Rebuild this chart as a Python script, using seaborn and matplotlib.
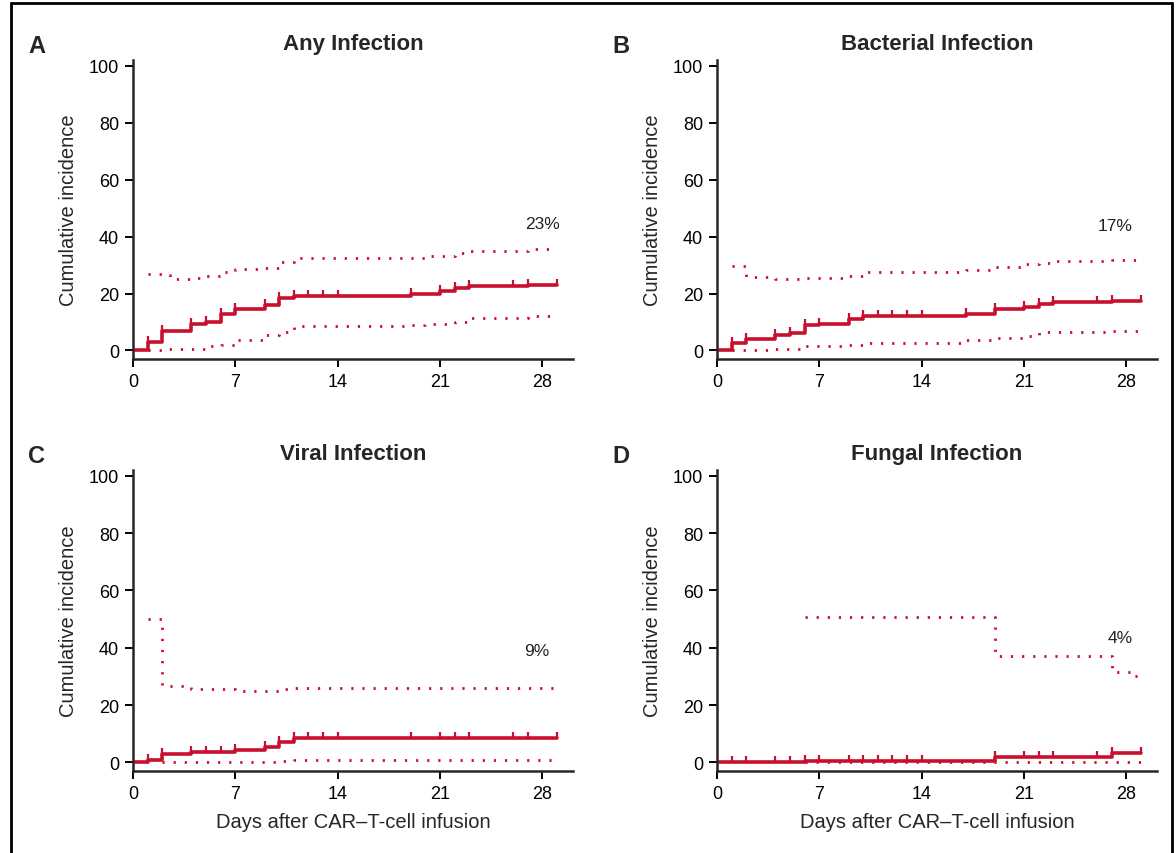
import numpy as np
import pandas as pd
import seaborn as sns
import matplotlib.pyplot as plt
from matplotlib.patches import Rectangle

# cumulative incidence (%), step functions (steps-post)
time_any = [0, 1, 2, 4, 5, 6, 7, 9, 10, 11, 19, 21, 22, 23, 27, 29]
est_any = [0, 3, 7, 9.2, 10, 12.7, 14.5, 16, 18.5, 19.2, 20, 21, 22, 22.5, 23, 23]
up_time_any = [1, 2, 2.5, 4, 5, 6, 7, 9, 10, 11, 19, 20, 22, 23, 27, 29]
up_any = [27, 26.5, 25, 25.5, 26, 27.4, 28.5, 29, 31, 32.4, 32.4, 33.3, 34.3, 34.8, 35.5, 35.5]
lo_time_any = [1, 2, 5, 6, 7, 9, 10, 11, 19, 20, 22, 23, 27, 29]
lo_any = [0, 0.6, 1.5, 2, 3.5, 5.3, 6.5, 8.5, 8.8, 9.2, 10, 11.5, 12, 12]
cens_any = [1, 2, 4, 5, 6, 7, 9, 10, 11, 12, 13, 14, 19, 21, 22, 23, 26, 27, 29]

time_bac = [0, 1, 2, 4, 5, 6, 7, 9, 10, 17, 19, 21, 22, 23, 27, 29]
est_bac = [0, 2.5, 4, 5.5, 6.3, 8.8, 9.4, 10.9, 12, 12.7, 14.5, 15.4, 16.2, 16.9, 17.4, 17.4]
up_time_bac = [1, 2, 4, 6, 9, 10, 17, 19, 21, 22, 23, 27, 29]
up_bac = [29.5, 25.8, 25, 25.6, 26, 27.4, 28.2, 29.4, 30.2, 30.6, 31.4, 31.8, 31.8]
lo_time_bac = [1, 4, 6, 9, 10, 17, 19, 21, 22, 27, 29]
lo_bac = [0, 0.4, 1.4, 2, 2.7, 3.5, 4.4, 5.1, 6.5, 6.9, 6.9]
cens_bac = [1, 2, 4, 5, 6, 7, 9, 10, 11, 12, 13, 14, 17, 19, 21, 22, 23, 26, 27, 29]

time_vir = [0, 1, 2, 4, 7, 9, 10, 11, 29]
est_vir = [0, 0.9, 2.9, 3.8, 4.5, 5.3, 7.1, 8.4, 8.4]
up_time_vir = [1, 2, 4, 7, 10, 11, 29]
up_vir = [50, 26.7, 25.5, 25, 25.5, 25.9, 25.9]
lo_time_vir = [2, 10, 11, 29]
lo_vir = [0, 0.4, 0.8, 0.8]
cens_vir = [1, 2, 4, 5, 6, 7, 9, 10, 11, 12, 13, 14, 19, 21, 22, 23, 26, 27, 29]

time_fun = [0, 6, 19, 27, 29]
est_fun = [0, 0.6, 1.8, 3.3, 3.3]
up_time_fun = [6, 19, 27, 28.5, 29]
up_fun = [50.8, 37, 31.4, 30, 30]
lo_time_fun = [6, 29]
lo_fun = [0, 0]
cens_fun = [1, 2, 4, 5, 6, 7, 9, 10, 11, 12, 13, 14, 19, 21, 22, 23, 26, 27, 29]

panels = [
    ("A", "Any Infection", "23%", (28.0, 44.5)),
    ("B", "Bacterial Infection", "17%", (27.2, 44)),
    ("C", "Viral Infection", "9%", (27.6, 39)),
    ("D", "Fungal Infection", "4%", (27.6, 43.7)),
]
series = [
    (time_any, est_any, up_time_any, up_any, lo_time_any, lo_any, cens_any),
    (time_bac, est_bac, up_time_bac, up_bac, lo_time_bac, lo_bac, cens_bac),
    (time_vir, est_vir, up_time_vir, up_vir, lo_time_vir, lo_vir, cens_vir),
    (time_fun, est_fun, up_time_fun, up_fun, lo_time_fun, lo_fun, cens_fun),
]

sns.set_style("ticks")
plt.rcParams['font.family'] = ['Liberation Sans', 'DejaVu Sans']
red = "#C8102E"

fig = plt.figure(figsize=(11.76, 8.54), dpi=100)
W, H = 1176, 854
boxes = [(133, 61, 573, 360), (717, 61, 1157, 360),
         (133, 471, 573, 772), (717, 471, 1157, 772)]

tick_marker = [(0, 0), (0, 1)]
dots = (0, (0.8, 3.2))

for i, ((letter, title, pct, pct_xy), data, box) in enumerate(zip(panels, series, boxes)):
    l, t, r, b = box
    ax = fig.add_axes([l / W, 1 - b / H, (r - l) / W, (b - t) / H])
    tt, est, ut, up, lt, lo, cens = data

    sns.lineplot(x=ut, y=up, ax=ax, color=red, lw=2.0, drawstyle='steps-post',
                 linestyle=dots, estimator=None, sort=False)
    sns.lineplot(x=lt, y=lo, ax=ax, color=red, lw=2.0, drawstyle='steps-post',
                 linestyle=dots, estimator=None, sort=False)
    sns.lineplot(x=tt, y=est, ax=ax, color=red, lw=2.6, drawstyle='steps-post',
                 estimator=None, sort=False)
    # censoring marks on the step curve
    idx = np.searchsorted(tt, cens, side='right') - 1
    cy = np.array(est)[idx]
    ax.plot(cens, cy, linestyle='none', marker=tick_marker, markersize=9,
            markeredgewidth=1.6, color=red)

    ax.text(pct_xy[0], pct_xy[1], pct, ha='center', va='center', fontsize=12.5, color='#222222')

    ax.set_xlim(0, 30.1)
    ax.set_ylim(-3, 102)
    ax.set_xticks([0, 7, 14, 21, 28])
    ax.set_yticks([0, 20, 40, 60, 80, 100])
    ax.tick_params(axis='both', direction='out', length=6, width=1.4, labelsize=13,
                   pad=4, colors='black')
    for s in ['left', 'bottom']:
        ax.spines[s].set_linewidth(1.8)
    sns.despine(ax=ax)

    ax.set_title(title, fontsize=16, fontweight='bold', pad=8)
    ax.set_ylabel("Cumulative incidence", fontsize=14.5, labelpad=8)
    if i >= 2:
        ax.set_xlabel("Days after CAR\u2013T-cell infusion", fontsize=14.5, labelpad=7)
    else:
        ax.set_xlabel("")

    lx = 28 if i % 2 == 0 else 612
    ly = 53 if i < 2 else 463
    fig.text(lx / W, 1 - ly / H, letter, fontsize=17, fontweight='bold', va='baseline')

fig.patches.append(Rectangle((11 / W, -0.1), (1172 - 11) / W, 1.1 - 4 / H,
                             transform=fig.transFigure, fill=False, lw=2, ec='black'))

plt.savefig("out.png", dpi=100)
